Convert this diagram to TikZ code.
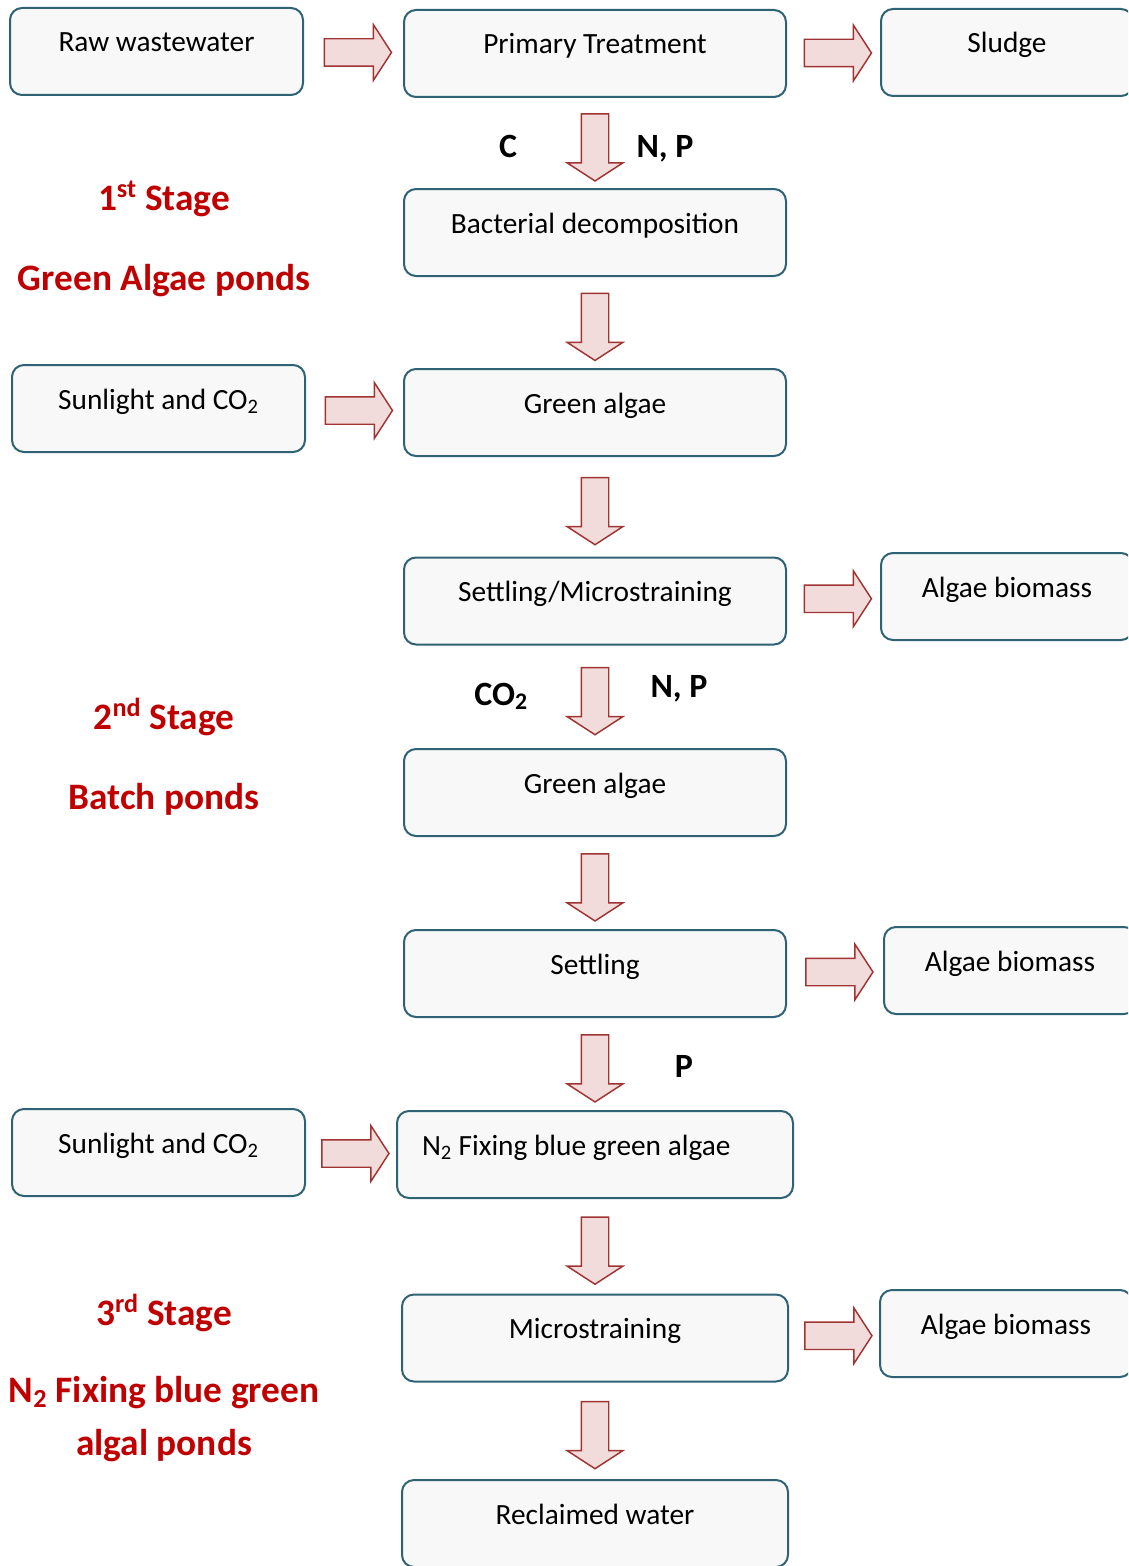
\documentclass[tikz,border=0pt]{standalone}
\usepackage{fontspec}
\setmainfont{Carlito}
\usetikzlibrary{shapes.arrows}

\definecolor{boxline}{RGB}{46,98,116}
\definecolor{boxfill}{RGB}{248,248,248}
\definecolor{arrowline}{RGB}{160,52,50}
\definecolor{arrowfill}{RGB}{242,220,219}
\definecolor{stagered}{RGB}{192,0,0}

\tikzset{
  box/.style={draw=boxline, fill=boxfill, line width=1.5pt, rounded corners=9pt,
    minimum width=286.5pt, minimum height=65.25pt, inner xsep=0pt, inner ysep=0pt,
    text height=33pt, text depth=32.25pt, font=\fontsize{22}{26}\selectfont},
  rfat/.style={single arrow, draw=arrowline, fill=arrowfill, line width=1.1pt,
    inner xsep=0pt, inner ysep=9.75pt, minimum height=50.25pt,
    single arrow head extend=10.5pt, single arrow tip angle=114},
  dfat/.style={rfat, rotate=-90},
  stage/.style={text=stagered, anchor=base, font=\fontsize{28}{33}\selectfont\bfseries},
  elem/.style={anchor=base, font=\fontsize{25.5}{30}\selectfont\bfseries}
}

\begin{document}
\begin{tikzpicture}[x=0.75pt,y=-0.75pt]
  \path[use as bounding box, clip] (0,0) rectangle (1128,1566);
  %\draw[very thin,lightgray] (0,0) grid[step=100] (1128,1566);
  \node[box, minimum width=219.75pt] (raw) at (156.5,51.5) {Raw wastewater};
  \node[box] (prim) at (595,53.5) {Primary Treatment};
  \node[box, minimum width=189pt] (sludge) at (1007,52.5) {Sludge};
  \node[box] (bact) at (595,232.5) {Bacterial decomposition};
  \node[box, minimum width=219.75pt] (sun1) at (158.5,408.5) {Sunlight and CO\textsubscript{2}};
  \node[box] (green1) at (595,412.5) {Green algae};
  \node[box] (settmic) at (595,601) {Settling/Microstraining};
  \node[box, minimum width=189pt] (bio1) at (1007,596.5) {Algae biomass};
  \node[box] (green2) at (595,792.5) {Green algae};
  \node[box] (settl) at (595,973.5) {Settling};
  \node[box, minimum width=189pt] (bio2) at (1010,970.5) {Algae biomass};
  \node[box, minimum width=219.75pt] (sun2) at (158.5,1152.5) {Sunlight and CO\textsubscript{2}};
  \node[box, minimum width=297pt, inner xsep=18.75pt, text width=259.5pt, align=flush left] (fix) at (595,1154.5)
    {N\textsubscript{2} Fixing blue green algae};
  \node[box, minimum width=289.5pt] (micro) at (595,1338) {Microstraining};
  \node[box, minimum width=189pt] (bio3) at (1006,1333.5) {Algae biomass};
  \node[box, minimum width=289.5pt] (recl) at (595,1523.5) {Reclaimed water};

  \path (raw.east) -- node[rfat] (a1) {} (prim.west);
  \path (prim.east) -- node[rfat] (a2) {} (sludge.west);
  \path (prim.south) -- node[dfat] (a3) {} (bact.north);
  \path (bact.south) -- node[dfat] (a4) {} (green1.north);
  \path (sun1.east) -- node[rfat] (a5) {} (green1.west);
  \path (green1.south) -- node[dfat] (a6) {} (settmic.north);
  \path (settmic.east) -- node[rfat] (a7) {} (bio1.west);
  \path (settmic.south) -- node[dfat] (a8) {} (green2.north);
  \path (green2.south) -- node[dfat] (a9) {} (settl.north);
  \path (settl.east) -- node[rfat] (a10) {} (bio2.west);
  \path (settl.south) -- node[dfat] (a11) {} (fix.north);
  \path (sun2.east) -- node[rfat] (a12) {} (fix.west);
  \path (fix.south) -- node[dfat] (a13) {} (micro.north);
  \path (micro.east) -- node[rfat] (a14) {} (bio3.west);
  \path (micro.south) -- node[dfat] (a15) {} (recl.north);

  \node[elem] (c1) at (508,157) {C};
  \node[elem] (np1) at (665,157) {N, P};
  \node[elem] (co2) at (501,705) {CO\textsubscript{2}};
  \node[elem] (np2) at (679,697) {N, P};
  \node[elem] (p3) at (684,1077) {P};

  \node[stage] (st1) at (164,210) {1\textsuperscript{st} Stage};
  \node[stage] (pond1) at (164,290) {Green Algae ponds};
  \node[stage] (st2) at (164,729) {2\textsuperscript{nd} Stage};
  \node[stage] (pond2) at (164,809) {Batch ponds};
  \node[stage] (st3) at (164,1325) {3\textsuperscript{rd} Stage};
  \node[stage] (pond3a) at (164,1402) {N\textsubscript{2} Fixing blue green};
  \node[stage] (pond3b) at (164,1455) {algal ponds};
\end{tikzpicture}
\end{document}
